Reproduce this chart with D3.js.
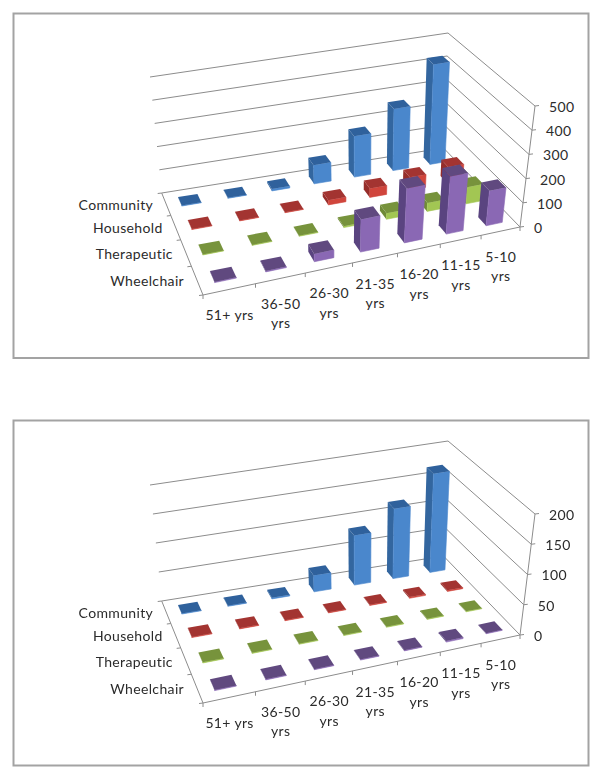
<!DOCTYPE html>
<meta charset="utf-8">
<style>
html, body { margin: 0; padding: 0; background: #fff; }
svg { display: block; filter: blur(0.35px); }
.frame { fill: #fff; stroke: #a3a3a3; stroke-width: 2px; }
.grid { stroke: #8c8c8c; stroke-width: 1px; fill: none; }
text { font: 14px Lato, "Open Sans", sans-serif; fill: #2b2b2b; letter-spacing: .35px; }
</style>
<svg width="602" height="779"></svg>
<script src="https://d3js.org/d3.v7.min.js"></script>
<script>

var ageGroups = ["51+ yrs", "36-50 yrs", "26-30 yrs", "21-35 yrs", "16-20 yrs", "11-15 yrs", "5-10 yrs"];
var seriesNames = ["Community", "Household", "Therapeutic", "Wheelchair"];
var seriesColors = [
  { front: "#4a87cc", side: "#33669f", top: "#2f619c" },
  { front: "#d0453c", side: "#952d2a", top: "#a33431" },
  { front: "#a2c653", side: "#6f8a36", top: "#77933c" },
  { front: "#8a68b4", side: "#5a4480", top: "#60497f" }
];

// top chart
var topTicks = [0, 100, 200, 300, 400, 500];
var topCommunity = [2, 2, 8, 80, 175, 265, 430];
var topHousehold = [2, 2, 2, 20, 38, 55, 70];
var topTherapeutic = [2, 2, 2, 6, 25, 35, 70];
var topWheelchair = [3, 4, 32, 135, 225, 238, 145];

// bottom chart
var bottomTicks = [0, 50, 100, 150, 200];
var bottomCommunity = [1, 1, 2, 28, 85, 120, 170];
var bottomHousehold = [1, 1, 1, 1, 1, 2, 2];
var bottomTherapeutic = [1, 1, 1, 1, 1, 1, 1];
var bottomWheelchair = [1, 1, 1, 1, 1, 2, 1];

var svg = d3.select("svg");

// screen corners of the 3d box, floor and ceiling
var floorQuad = [[161.7, 193], [443.5, 148], [520, 227], [203, 295]];
var ceilQuad = [[150, 77], [448, 33], [535, 106], [193, 173]];

// unit square -> quad (bl, br, fr, fl)
function homography(q) {
  var x0 = q[0][0], y0 = q[0][1], x1 = q[1][0], y1 = q[1][1],
      x2 = q[2][0], y2 = q[2][1], x3 = q[3][0], y3 = q[3][1];
  var dx1 = x1 - x2, dx2 = x3 - x2, sx = x0 - x1 + x2 - x3,
      dy1 = y1 - y2, dy2 = y3 - y2, sy = y0 - y1 + y2 - y3;
  var det = dx1 * dy2 - dx2 * dy1,
      g = (sx * dy2 - dx2 * sy) / det,
      h = (dx1 * sy - sx * dy1) / det;
  var a = x1 - x0 + g * x1, b = x3 - x0 + h * x3,
      d = y1 - y0 + g * y1, e = y3 - y0 + h * y3;
  return function(u, v) {
    var w = g * u + h * v + 1;
    return [(a * u + b * v + x0) / w, (d * u + e * v + y0) / w];
  };
}

var floorAt = homography(floorQuad),
    ceilAt = homography(ceilQuad);

var x = d3.scaleBand().domain(ageGroups).range([0, 1]).paddingInner(0.58).paddingOuter(0.29);
var depth = d3.scaleBand().domain(seriesNames).range([0, 1]).paddingInner(0.62).paddingOuter(0.31);
var line = d3.line();

function drawChart(dy, ticks, rows) {
  var zScale = d3.scaleLinear().domain([0, d3.max(ticks)]).range([0, 1]);
  var g = svg.append("g").attr("transform", "translate(0," + dy + ")");

  function project(u, v, value) {
    var f = floorAt(u, v), c = ceilAt(u, v), t = zScale(value);
    return [f[0] + (c[0] - f[0]) * t, f[1] + (c[1] - f[1]) * t];
  }

  // back wall and side wall gridlines
  ticks.forEach(function(t) {
    g.append("path").attr("class", "grid")
      .attr("d", line([project(0, 0, t), project(1, 0, t), project(1, 1, t)]));
    var p = project(1, 1, t);
    g.append("path").attr("class", "grid")
      .attr("d", line([p, [p[0] + 4, p[1] - 0.5]]));
    g.append("text")
      .attr("x", p[0] + 14)
      .attr("y", p[1] + 1)
      .attr("dy", "0.35em")
      .text(t);
  });

  // floor edges and the value axis
  g.append("path").attr("class", "grid")
    .attr("d", line([project(0, 0, 0), project(0, 1, 0), project(1, 1, 0), project(1, 1, d3.max(ticks))]));

  // ticks along the front and left edges
  d3.range(ageGroups.length + 1).forEach(function(i) {
    var u = i / ageGroups.length, p = project(u, 1, 0);
    g.append("path").attr("class", "grid").attr("d", line([p, [p[0], p[1] + 4]]));
  });
  d3.range(seriesNames.length + 1).forEach(function(i) {
    var v = i / seriesNames.length, p = project(0, v, 0);
    g.append("path").attr("class", "grid").attr("d", line([p, [p[0] - 4, p[1] + 0.5]]));
  });

  // back row first, right to left so nearer bars cover further ones
  var bars = [];
  seriesNames.forEach(function(name, r) {
    ageGroups.slice().reverse().forEach(function(age) {
      bars.push({ age: age, series: name, row: r, value: rows[r][ageGroups.indexOf(age)] });
    });
  });

  var bar = g.selectAll(".bar")
    .data(bars)
    .enter().append("g")
      .attr("class", "bar");

  function corners(d) {
    return {
      u0: x(d.age), u1: x(d.age) + x.bandwidth(),
      v0: depth(d.series), v1: depth(d.series) + depth.bandwidth()
    };
  }

  bar.append("path")
    .attr("fill", function(d) { return seriesColors[d.row].side; })
    .attr("d", function(d) {
      var c = corners(d);
      return line([project(c.u0, c.v0, 0), project(c.u0, c.v1, 0), project(c.u0, c.v1, d.value), project(c.u0, c.v0, d.value)]) + "Z";
    });
  bar.append("path")
    .attr("fill", function(d) { return seriesColors[d.row].front; })
    .attr("stroke", function(d) { return seriesColors[d.row].front; })
    .attr("stroke-width", 0.6)
    .attr("d", function(d) {
      var c = corners(d);
      return line([project(c.u0, c.v1, 0), project(c.u1, c.v1, 0), project(c.u1, c.v1, d.value), project(c.u0, c.v1, d.value)]) + "Z";
    });
  bar.append("path")
    .attr("fill", function(d) { return seriesColors[d.row].top; })
    .attr("d", function(d) {
      var c = corners(d);
      return line([project(c.u0, c.v0, d.value), project(c.u1, c.v0, d.value), project(c.u1, c.v1, d.value), project(c.u0, c.v1, d.value)]) + "Z";
    });

  // category labels, two lines when they have a range in them
  ageGroups.forEach(function(age) {
    var p = project(x(age) + x.bandwidth() / 2, 1, 0);
    var parts = age === "51+ yrs" ? [age] : age.split(" ");
    var label = g.append("text").attr("text-anchor", "middle");
    parts.forEach(function(part, i) {
      label.append("tspan")
        .attr("x", p[0])
        .attr("y", p[1] + 30.5 + i * 19.5)
        .text(part);
    });
  });

  seriesNames.forEach(function(name) {
    var p = project(0, depth(name) + depth.bandwidth() / 2, 0);
    g.append("text")
      .attr("text-anchor", "end")
      .attr("x", p[0] - 13)
      .attr("y", p[1] + 6)
      .text(name);
  });
}

svg.append("rect").attr("class", "frame").attr("x", 13.5).attr("y", 13.5).attr("width", 575).attr("height", 344.5);
svg.append("rect").attr("class", "frame").attr("x", 13.5).attr("y", 420.5).attr("width", 575).attr("height", 345);

drawChart(0, topTicks, [topCommunity, topHousehold, topTherapeutic, topWheelchair]);
drawChart(408, bottomTicks, [bottomCommunity, bottomHousehold, bottomTherapeutic, bottomWheelchair]);

</script>
